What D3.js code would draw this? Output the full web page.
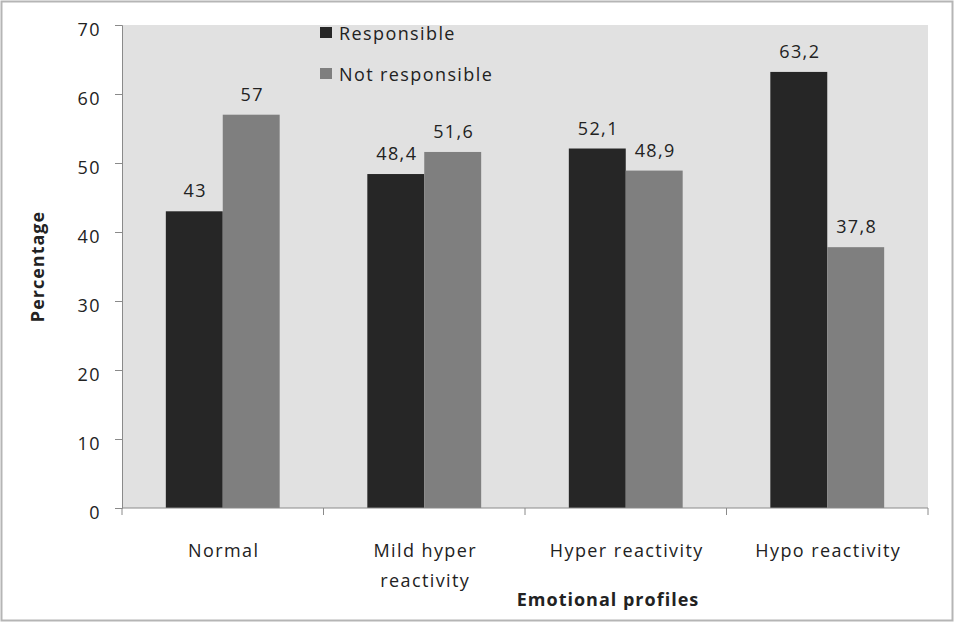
<!DOCTYPE html>
<html>
<head>
<meta charset="utf-8">
<script src="https://cdn.jsdelivr.net/npm/d3@7"></script>
<style>
  body { margin: 0; background: #fff; }
  svg text { font-family: "Open Sans", sans-serif; fill: #222; letter-spacing: 1.4px; }
  svg text.title { letter-spacing: 1px; font-weight: bold; }
</style>
</head>
<body>
<svg id="chart" width="955" height="624"></svg>
<script>
// data
const categories = ["Normal", "Mild hyper reactivity", "Hyper reactivity", "Hypo reactivity"];
const categoryLines = [["Normal"], ["Mild hyper", "reactivity"], ["Hyper reactivity"], ["Hypo reactivity"]];
const seriesNames = ["Responsible", "Not responsible"];
const responsible = [43, 48.4, 52.1, 63.2];
const notResponsible = [57, 51.6, 48.9, 37.8];
const yTicks = [0, 10, 20, 30, 40, 50, 60, 70];

const colors = { "Responsible": "#262626", "Not responsible": "#7f7f7f" };
const margin = { left: 122, top: 25, right: 27, bottom: 116 };

const svg = d3.select("#chart");
const width = 955 - margin.left - margin.right;
const height = 624 - margin.top - margin.bottom;

// outer frame
svg.append("rect")
  .attr("x", 1.5).attr("y", 1.5)
  .attr("width", 951).attr("height", 619)
  .attr("fill", "none")
  .attr("stroke", "#b5b5b5")
  .attr("stroke-width", 2);

const g = svg.append("g")
  .attr("transform", "translate(" + margin.left + "," + margin.top + ")");

const x0 = d3.scaleBand().domain(categories).range([0, width]).padding(0);
const x1 = d3.scaleBand().domain(seriesNames).range([0, x0.bandwidth()])
  .paddingInner(0).paddingOuter(0.77);
const y = d3.scaleLinear().domain([0, 70]).range([height, 0]);

g.append("rect")
  .attr("width", width).attr("height", height)
  .attr("fill", "#e1e1e1");

const rows = categories.map((c, i) => ({
  cat: c,
  values: [
    { name: "Responsible", value: responsible[i] },
    { name: "Not responsible", value: notResponsible[i] }
  ]
}));

const groups = g.selectAll(".grp")
  .data(rows)
  .enter().append("g")
  .attr("class", "grp")
  .attr("transform", d => "translate(" + x0(d.cat) + ",0)");

groups.selectAll("rect")
  .data(d => d.values)
  .enter().append("rect")
  .attr("x", d => x1(d.name))
  .attr("y", d => y(d.value))
  .attr("width", x1.bandwidth())
  .attr("height", d => height - y(d.value))
  .attr("fill", d => colors[d.name]);

groups.selectAll(".label")
  .data(d => d.values)
  .enter().append("text")
  .attr("class", "label")
  .attr("x", d => x1(d.name) + x1.bandwidth() / 2 + 1)
  .attr("y", d => y(d.value) - 14)
  .attr("text-anchor", "middle")
  .style("font-size", "18px")
  .text(d => String(d.value).replace(".", ","));

// y axis
const yAxis = d3.axisLeft(y).tickValues(yTicks).tickSize(7).tickPadding(14);
const gy = g.append("g").call(yAxis);
gy.select(".domain").attr("stroke", "#8a8a8a");
gy.selectAll(".tick line").attr("stroke", "#8a8a8a");
gy.selectAll(".tick text")
  .attr("dy", "0.6em")
  .style("font-size", "18px")
  .style("font-family", "'Open Sans', sans-serif")
  .style("fill", "#222");

// x axis: ticks at category boundaries
const gx = g.append("g").attr("transform", "translate(0," + height + ")");
gx.append("line")
  .attr("x1", 0).attr("x2", width)
  .attr("stroke", "#8a8a8a");
gx.selectAll(".xt")
  .data(categories.concat([null]))
  .enter().append("line")
  .attr("x1", d => d === null ? width : x0(d))
  .attr("x2", d => d === null ? width : x0(d))
  .attr("y1", 0).attr("y2", 7)
  .attr("stroke", "#8a8a8a");

const xl = gx.selectAll(".xl")
  .data(categories)
  .enter().append("text")
  .attr("x", d => x0(d) + x0.bandwidth() / 2 + 1)
  .attr("y", 49)
  .attr("text-anchor", "middle")
  .style("font-size", "18px");
xl.selectAll("tspan")
  .data((d, i) => categoryLines[i])
  .enter().append("tspan")
  .attr("x", function() { return this.parentNode.getAttribute("x"); })
  .attr("dy", (d, i) => i === 0 ? 0 : 30)
  .text(d => d);

// axis titles
svg.append("text")
  .attr("class", "title")
  .attr("x", 608).attr("y", 606)
  .attr("text-anchor", "middle")
  .style("font-size", "18px")
  .text("Emotional profiles");

svg.append("text")
  .attr("class", "title")
  .attr("transform", "translate(44," + (margin.top + height / 2) + ") rotate(-90)")
  .attr("text-anchor", "middle")
  .style("font-size", "18px")
  .text("Percentage");

// legend
const legend = svg.append("g").attr("transform", "translate(320,27)");
const li = legend.selectAll(".li")
  .data(seriesNames)
  .enter().append("g")
  .attr("transform", (d, i) => "translate(0," + i * 41 + ")");
li.append("rect")
  .attr("width", 12).attr("height", 11)
  .attr("fill", d => colors[d]);
li.append("text")
  .attr("x", 19).attr("y", 13)
  .style("font-size", "18px")
  .text(d => d);
</script>
</body>
</html>
